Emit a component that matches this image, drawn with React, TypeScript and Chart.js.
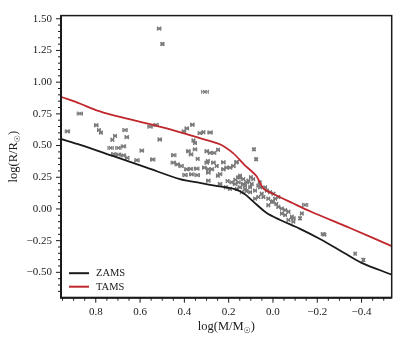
import { useEffect, useRef } from "react";
import { Chart, registerables } from "chart.js";

Chart.register(...registerables);

// Zero-age main sequence: log M vs log R
const zamsMass = [0.957, 0.87, 0.72, 0.57, 0.42, 0.33, 0.25, 0.18, 0.13, 0.09, 0.03, -0.03, -0.12, -0.21, -0.32, -0.4, -0.536];
const zamsRadius = [0.552, 0.506, 0.416, 0.326, 0.235, 0.205, 0.18, 0.16, 0.12, 0.06, -0.03, -0.085, -0.155, -0.235, -0.345, -0.425, -0.518];

// Terminal-age main sequence
const tamsMass = [0.957, 0.87, 0.8, 0.7, 0.63, 0.48, 0.33, 0.24, 0.18, 0.13, 0.075, 0.045, 0.0, -0.09, -0.17, -0.35, -0.536];
const tamsRadius = [0.885, 0.83, 0.78, 0.73, 0.7, 0.635, 0.558, 0.51, 0.44, 0.35, 0.26, 0.165, 0.12, 0.045, -0.02, -0.152, -0.293];

// Binary components: [log M, log R, err log M, err log R]
const stars: [number, number, number, number][] = [
  [0.514, 1.423, 0.008, 0], [0.499, 1.301, 0.006, 0.008], [0.307, 0.924, 0.015, 0],
  [0.872, 0.752, 0.012, 0], [0.928, 0.612, 0.01, 0], [0.798, 0.66, 0.008, 0],
  [0.786, 0.622, 0.006, 0], [0.777, 0.602, 0.006, 0], [0.725, 0.546, 0.006, 0],
  [0.713, 0.576, 0.006, 0], [0.668, 0.622, 0.01, 0], [0.66, 0.566, 0.008, 0],
  [0.733, 0.481, 0.012, 0], [0.698, 0.481, 0.012, 0], [0.675, 0.494, 0.01, 0],
  [0.719, 0.432, 0.01, 0], [0.698, 0.429, 0.01, 0], [0.675, 0.422, 0.01, 0],
  [0.658, 0.403, 0.008, 0], [0.592, 0.46, 0.008, 0], [0.614, 0.384, 0.01, 0],
  [0.543, 0.39, 0.01, 0], [0.555, 0.649, 0.01, 0], [0.528, 0.663, 0.01, 0],
  [0.511, 0.548, 0.008, 0], [0.448, 0.424, 0.01, 0], [0.45, 0.365, 0.01, 0],
  [0.432, 0.351, 0.01, 0], [0.415, 0.339, 0.01, 0], [0.402, 0.612, 0.008, 0],
  [0.389, 0.635, 0.008, 0], [0.364, 0.664, 0.008, 0], [0.359, 0.54, 0.006, 0],
  [0.352, 0.52, 0.006, 0], [0.382, 0.455, 0.008, 0], [0.37, 0.43, 0.008, 0],
  [0.352, 0.47, 0.008, 0], [0.34, 0.395, 0.006, 0], [0.389, 0.313, 0.01, 0],
  [0.372, 0.316, 0.01, 0], [0.344, 0.318, 0.01, 0], [0.397, 0.268, 0.01, 0],
  [0.367, 0.273, 0.01, 0], [0.342, 0.267, 0.01, 0], [0.33, 0.598, 0.008, 0],
  [0.31, 0.326, 0.008, 0], [0.292, 0.313, 0.008, 0], [0.294, 0.378, 0.006, 0],
  [0.299, 0.455, 0.008, 0], [0.314, 0.605, 0.006, 0], [0.284, 0.603, 0.01, 0],
  [0.284, 0.442, 0.008, 0], [0.266, 0.442, 0.008, 0], [0.248, 0.467, 0.006, 0],
  [0.299, 0.365, 0.008, 0], [0.269, 0.365, 0.008, 0], [0.254, 0.339, 0.006, 0],
  [0.276, 0.313, 0.008, 0], [0.292, 0.287, 0.008, 0], [0.239, 0.274, 0.008, 0],
  [0.249, 0.262, 0.006, 0], [0.224, 0.368, 0.008, 0], [0.224, 0.313, 0.008, 0],
  [0.209, 0.326, 0.008, 0], [0.194, 0.326, 0.008, 0], [0.179, 0.339, 0.008, 0],
  [0.166, 0.368, 0.006, 0], [0.156, 0.249, 0.008, 0], [0.086, 0.47, 0.004, 0.008],
  [0.076, 0.392, 0.004, 0.008], [0.186, 0.21, 0.008, 0], [0.171, 0.197, 0.008, 0],
  [0.156, 0.21, 0.008, 0], [0.149, 0.171, 0.008, 0], [0.134, 0.197, 0.008, 0],
  [0.118, 0.21, 0.008, 0], [0.163, 0.158, 0.006, 0], [0.126, 0.158, 0.006, 0],
  [0.103, 0.171, 0.006, 0], [0.141, 0.132, 0.006, 0], [0.103, 0.132, 0.006, 0],
  [0.081, 0.145, 0.006, 0], [0.058, 0.171, 0.006, 0], [0.051, 0.12, 0.006, 0],
  [0.081, 0.081, 0.006, 0], [0.066, 0.094, 0.006, 0], [0.194, 0.158, 0.006, 0],
  [0.213, 0.171, 0.006, 0], [0.239, 0.197, 0.008, 0], [0.292, 0.223, 0.008, 0],
  [0.149, 0.249, 0.006, 0], [0.134, 0.235, 0.006, 0], [0.111, 0.223, 0.006, 0],
  [0.096, 0.197, 0.006, 0], [0.126, 0.184, 0.006, 0], [0.089, 0.235, 0.006, 0],
  [0.066, 0.184, 0.006, 0], [0.028, 0.145, 0.006, 0], [0.013, 0.132, 0.006, 0],
  [-0.002, 0.12, 0.006, 0], [0.043, 0.094, 0.006, 0], [0.021, 0.081, 0.006, 0],
  [0.005, 0.055, 0.006, 0], [-0.01, 0.081, 0.006, 0], [0.021, 0.029, 0.006, 0],
  [-0.024, 0.016, 0.006, 0], [-0.04, 0.003, 0.006, 0], [-0.055, -0.009, 0.006, 0],
  [-0.04, -0.036, 0.006, 0], [-0.07, -0.022, 0.006, 0], [-0.055, -0.048, 0.006, 0],
  [-0.085, -0.061, 0.006, 0], [-0.07, -0.087, 0.006, 0], [-0.092, -0.1, 0.006, 0],
  [-0.13, -0.036, 0.006, 0], [-0.024, 0.094, 0.006, 0], [-0.145, 0.032, 0.012, 0],
  [-0.092, -0.074, 0.008, 0], [-0.122, -0.074, 0.003, 0.01], [-0.226, -0.198, 0.008, 0],
  [-0.232, -0.202, 0.006, 0], [-0.371, -0.353, 0.004, 0], [-0.408, -0.402, 0.004, 0.012],
  [0.163, 0.37, 0.006, 0], [0.149, 0.262, 0.006, 0], [0.1, 0.25, 0.006, 0],
  [0.06, 0.21, 0.006, 0], [0.035, 0.17, 0.006, 0], [0.0, 0.06, 0.006, 0],
  [-0.015, 0.04, 0.006, 0], [0.12, 0.14, 0.006, 0], [0.17, 0.23, 0.006, 0],
  [0.205, 0.22, 0.006, 0],
];

const seriesNames = ["ZAMS", "TAMS"];
const X_MIN = -0.536;
const X_MAX = 0.957;
const Y_MIN = -0.7;
const Y_MAX = 1.525;

const SERIF = '"Liberation Serif", "Times New Roman", "DejaVu Serif", serif';
const GREY = "#7a7a7a";
const RED = "#c0272d";
const INK = "#1a1a1a";

const isMultiple = (v: number, step: number) => Math.abs(v / step - Math.round(v / step)) < 1e-6;
const fmt = (v: number, d: number) => {
  const n = Math.abs(v) < 1e-9 ? 0 : v;
  return n.toFixed(d).replace("-", "\u2212");
};

// Draws "log(A/A" + subscript sun + ")" centred at (cx, cy)
function drawSunLabel(ctx: CanvasRenderingContext2D, head: string, cx: number, cy: number, size: number) {
  const main = `${size}px ${SERIF}`;
  const sub = `${Math.round(size * 0.62)}px "DejaVu Sans", ${SERIF}`;
  ctx.font = main;
  const w1 = ctx.measureText(head).width;
  const w3 = ctx.measureText(")").width;
  ctx.font = sub;
  const w2 = ctx.measureText("\u2609").width;
  const total = w1 + w2 + w3;
  let x = cx - total / 2;
  ctx.textBaseline = "middle";
  ctx.textAlign = "left";
  ctx.font = main;
  ctx.fillText(head, x, cy);
  x += w1;
  ctx.font = sub;
  ctx.fillText("\u2609", x, cy + size * 0.3);
  x += w2;
  ctx.font = main;
  ctx.fillText(")", x, cy);
}

const decorations = {
  id: "decorations",
  beforeDatasetsDraw(chart: any) {
    const { ctx, scales } = chart;
    const xs = scales.x;
    const ys = scales.y;
    ctx.save();
    ctx.strokeStyle = GREY;
    ctx.lineWidth = 1;
    const cap = 2;
    for (const [m, r, em, er] of stars) {
      const px = xs.getPixelForValue(m);
      const py = ys.getPixelForValue(r);
      if (em > 0) {
        const a = xs.getPixelForValue(m - em);
        const b = xs.getPixelForValue(m + em);
        ctx.beginPath();
        ctx.moveTo(a, py);
        ctx.lineTo(b, py);
        ctx.moveTo(a, py - cap);
        ctx.lineTo(a, py + cap);
        ctx.moveTo(b, py - cap);
        ctx.lineTo(b, py + cap);
        ctx.stroke();
      }
      if (er > 0) {
        const a = ys.getPixelForValue(r - er);
        const b = ys.getPixelForValue(r + er);
        ctx.beginPath();
        ctx.moveTo(px, a);
        ctx.lineTo(px, b);
        ctx.moveTo(px - cap, a);
        ctx.lineTo(px + cap, a);
        ctx.moveTo(px - cap, b);
        ctx.lineTo(px + cap, b);
        ctx.stroke();
      }
    }
    ctx.restore();
  },
  afterDraw(chart: any) {
    const { ctx, chartArea: ca, scales } = chart;
    const xs = scales.x;
    const ys = scales.y;
    ctx.save();
    // frame
    ctx.strokeStyle = INK;
    ctx.lineWidth = 1.5;
    ctx.strokeRect(ca.left, ca.top, ca.right - ca.left, ca.bottom - ca.top);
    ctx.lineWidth = 2;
    ctx.beginPath();
    ctx.moveTo(ca.left, ca.top);
    ctx.lineTo(ca.left, ca.bottom);
    ctx.lineTo(ca.right, ca.bottom);
    ctx.stroke();
    // tick marks, outward
    ctx.lineWidth = 1;
    ctx.beginPath();
    for (const t of xs.ticks) {
      const px = xs.getPixelForValue(t.value);
      const len = isMultiple(t.value, 0.2) ? 5 : 3;
      ctx.moveTo(px, ca.bottom);
      ctx.lineTo(px, ca.bottom + len);
    }
    for (const t of ys.ticks) {
      const py = ys.getPixelForValue(t.value);
      const len = isMultiple(t.value, 0.25) ? 5 : 3;
      ctx.moveTo(ca.left, py);
      ctx.lineTo(ca.left - len, py);
    }
    ctx.stroke();

    // legend
    const colors = [INK, RED];
    ctx.font = `10.5px ${SERIF}`;
    ctx.textBaseline = "middle";
    ctx.textAlign = "left";
    seriesNames.forEach((name, i) => {
      const y = ca.bottom - 24.5 + i * 13.5;
      ctx.strokeStyle = colors[i];
      ctx.lineWidth = 2;
      ctx.beginPath();
      ctx.moveTo(ca.left + 8, y);
      ctx.lineTo(ca.left + 28, y);
      ctx.stroke();
      ctx.fillStyle = INK;
      ctx.fillText(name, ca.left + 35, y + 0.5);
    });

    // axis titles
    ctx.fillStyle = INK;
    drawSunLabel(ctx, "log(M/M", (ca.left + ca.right) / 2, 327, 12.5);
    ctx.save();
    ctx.translate(14, (ca.top + ca.bottom) / 2);
    ctx.rotate(-Math.PI / 2);
    drawSunLabel(ctx, "log(R/R", 0, 0, 12.5);
    ctx.restore();
    ctx.restore();
  },
};

export default function App() {
  const ref = useRef<HTMLCanvasElement | null>(null);

  useEffect(() => {
    if (!ref.current) return;
    const chart = new Chart(ref.current, {
      type: "scatter",
      data: {
        datasets: [
          {
            type: "line",
            label: seriesNames[0],
            data: zamsMass.map((m, i) => ({ x: m, y: zamsRadius[i] })),
            borderColor: INK,
            borderWidth: 1.8,
            pointRadius: 0,
            tension: 0.3,
            order: 1,
          },
          {
            type: "line",
            label: seriesNames[1],
            data: tamsMass.map((m, i) => ({ x: m, y: tamsRadius[i] })),
            borderColor: RED,
            borderWidth: 1.8,
            pointRadius: 0,
            tension: 0.3,
            order: 0,
          },
          {
            label: "stars",
            data: stars.map(([m, r]) => ({ x: m, y: r })),
            pointStyle: "crossRot",
            pointRadius: 2.4,
            borderColor: GREY,
            backgroundColor: GREY,
            borderWidth: 1.3,
            order: 2,
          },
        ],
      },
      options: {
        animation: false,
        responsive: true,
        maintainAspectRatio: false,
        layout: { padding: { top: 10, right: 8.3, left: 0, bottom: 0 } },
        plugins: { legend: { display: false }, tooltip: { enabled: false } },
        scales: {
          x: {
            type: "linear",
            reverse: true,
            min: X_MIN,
            max: X_MAX,
            grid: { display: false, drawTicks: false },
            border: { display: false },
            afterFit: (s: any) => {
              s.height = 46.3;
            },
            ticks: {
              stepSize: 0.05,
              autoSkip: false,
              includeBounds: false,
              maxRotation: 0,
              padding: 8,
              color: INK,
              font: { family: SERIF, size: 11 },
              callback: (v: any) => (isMultiple(Number(v), 0.2) ? fmt(Number(v), 1) : ""),
            },
          },
          y: {
            type: "linear",
            min: Y_MIN,
            max: Y_MAX,
            grid: { display: false, drawTicks: false },
            border: { display: false },
            afterFit: (s: any) => {
              s.width = 61;
            },
            ticks: {
              stepSize: 0.05,
              autoSkip: false,
              includeBounds: false,
              padding: 9,
              color: INK,
              font: { family: SERIF, size: 11 },
              callback: (v: any) => (isMultiple(Number(v), 0.25) ? fmt(Number(v), 2) : ""),
            },
          },
        },
      },
      plugins: [decorations],
    } as any);
    return () => chart.destroy();
  }, []);

  return (
    <div style={{ position: "absolute", left: 0, top: 0, width: 400, height: 344, background: "#fff" }}>
      <canvas ref={ref} />
    </div>
  );
}
